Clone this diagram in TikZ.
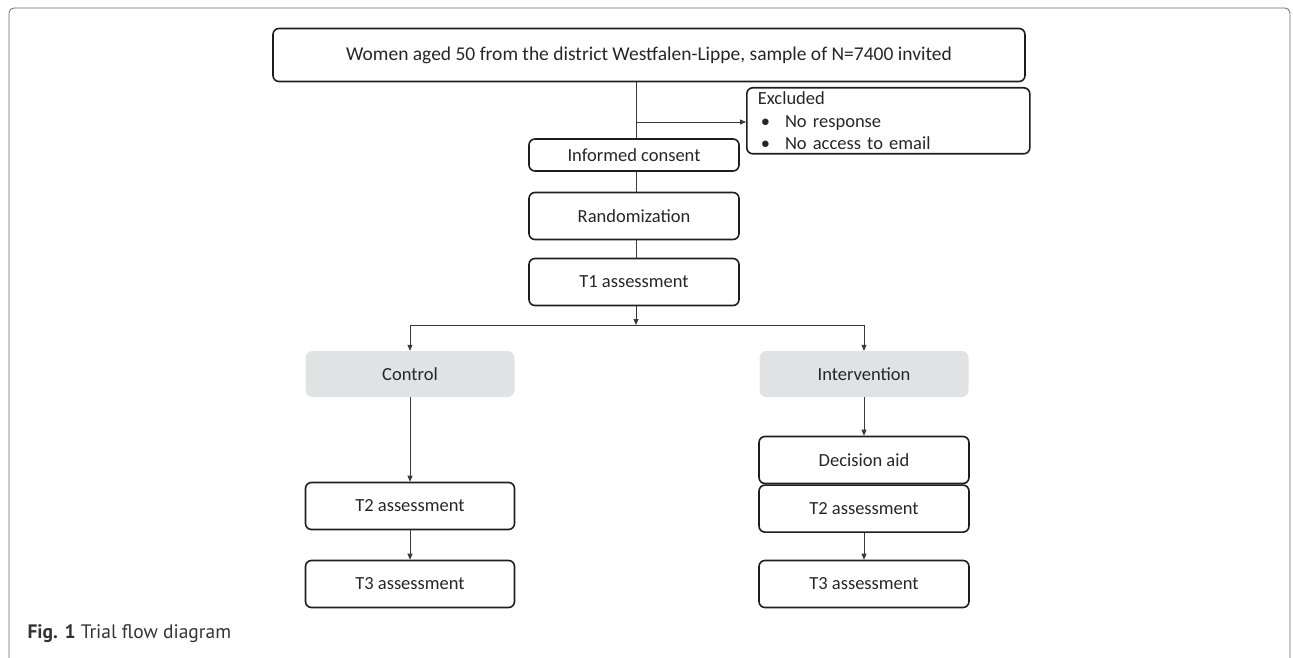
\documentclass[tikz,border=0pt]{standalone}
\usepackage{fontspec}
\setmainfont{Carlito}
\newfontfamily\captionfont{PT Sans}
\usetikzlibrary{arrows.meta, positioning, calc}
\definecolor{boxline}{HTML}{1E1E1E}
\definecolor{armfill}{HTML}{E1E2E4}
\definecolor{flowline}{HTML}{3A3A3A}
\definecolor{framegray}{HTML}{6A6A6A}

\begin{document}
\begin{tikzpicture}[
  x=1pt, y=-1pt,
  every node/.style={font=\fontsize{18.5}{22}\selectfont, text=black!85},
  stagebox/.style={rectangle, rounded corners=6pt, draw=boxline, line width=1.6pt, minimum width=#1, minimum height=47pt, align=center, inner sep=0pt},
  armbox/.style={rectangle, rounded corners=7pt, fill=armfill, minimum width=209pt, minimum height=46pt, inner sep=0pt},
  flow/.style={-{Triangle[length=6pt, width=5pt]}, flowline, line width=0.8pt},
  link/.style={flowline, line width=0.8pt},
]
\useasboundingbox (0,0) rectangle (1293,658);

% Frame
\draw[framegray, line width=0.8pt, rounded corners=5pt] (9,700) -- (9,8) -- (1290,8) -- (1290,700);

% Enrolment
\node[stagebox=752pt, minimum height=53pt, font=\fontsize{19.5}{23}\selectfont] (invited) at (649,55) {Women aged 50 from the district Westfalen-Lippe, sample of N=7400 invited};
\node[stagebox=283pt, minimum height=66pt, text width=261pt, align=left, anchor=north west, inner xsep=10pt, inner ysep=2pt, font=\fontsize{18.5}{22.5}\selectfont] (excluded) at (746,87) {Excluded\\\hspace*{3pt}\textbullet\hspace{15pt}No response\\\hspace*{3pt}\textbullet\hspace{15pt}No access to email};
\node[stagebox=210pt, minimum height=32pt] (consent) at (634,155) {Informed consent};
\node[stagebox=210pt] (random) at (634,216) {Randomization};
\node[stagebox=210pt] (tone) at (634,282) {T1 assessment};

% Arms
\node[armbox] (control) at (410,374) {Control};
\node[armbox] (interv) at (864,374) {Intervention};
\node[stagebox=209pt] (ctwo) at (410,506) {T2 assessment};
\node[stagebox=209pt] (cthree) at (410,584) {T3 assessment};
\node[stagebox=210pt] (aid) at (864,460) {Decision aid};
\node[stagebox=210pt, below=0pt of aid] (itwo) {T2 assessment};
\node[stagebox=210pt] (ithree) at (864,584) {T3 assessment};

% Connectors
\coordinate (exclsplit) at (636,122);
\coordinate (armsplit) at (636,325);
\draw[link] (invited.south -| exclsplit) -- (consent.north -| exclsplit);
\draw[flow] (exclsplit) -- (excluded.west |- exclsplit);
\draw[link] (consent.south -| exclsplit) -- (random.north -| exclsplit);
\draw[link] (random.south -| exclsplit) -- (tone.north -| exclsplit);
\draw[flow] (tone.south -| armsplit) -- (armsplit);
\draw[flow] (armsplit) -| (control.north);
\draw[flow] (armsplit) -| (interv.north);
\draw[flow] (control) -- (ctwo);
\draw[flow] (ctwo) -- (cthree);
\draw[flow] (interv) -- (aid);
\draw[flow] (itwo) -- (ithree);

% Caption
\node[anchor=west, font=\captionfont\fontsize{19.5}{22}\selectfont, text=black!80] (caption) at (24,634) {\textbf{Fig. 1} Trial flow diagram};
\end{tikzpicture}
\end{document}
